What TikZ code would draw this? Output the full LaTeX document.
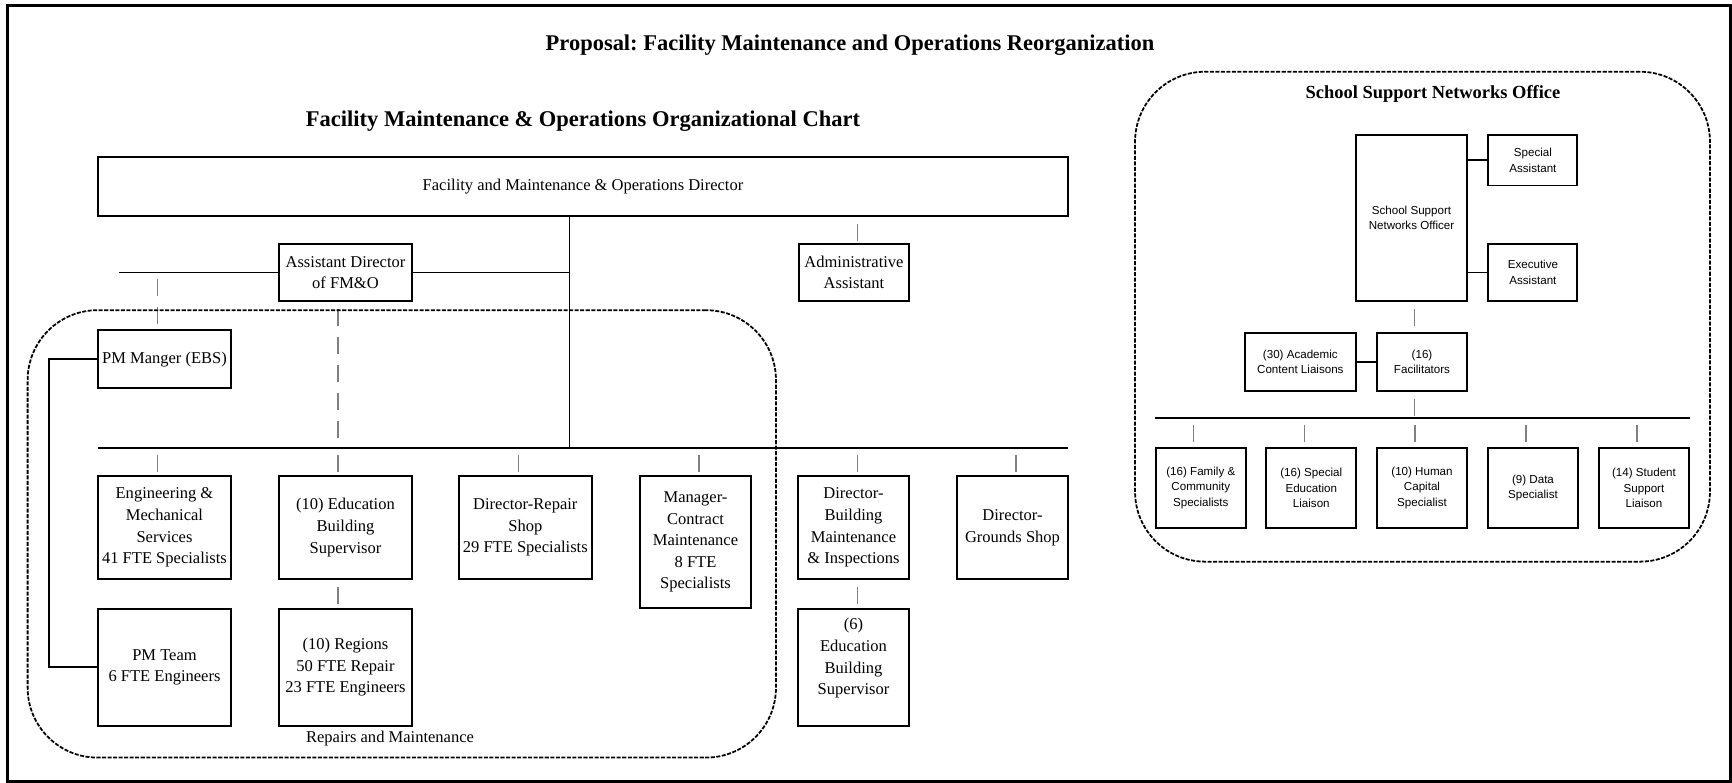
\documentclass[tikz,border=0pt]{standalone}
\usepackage{fontspec}
\setmainfont{Liberation Serif}
\setsansfont{Liberation Sans}
\usetikzlibrary{positioning}
\frenchspacing

\newcommand{\boxfont}{\fontsize{9.4}{12.3}\selectfont}
\newcommand{\netfont}{\sffamily\fontsize{6.6}{8.9}\selectfont}

\begin{document}
\begin{tikzpicture}[
    x=0.02cm, y=-0.02cm,
    box/.style={rectangle, draw, line width=1.1pt, align=center, font=\boxfont, inner sep=1pt},
    netbox/.style={box, font=\netfont},
    link/.style={line width=1.1pt},
    tick/.style={draw=gray, line width=0.7pt, dash pattern=on 0.34cm off 0.22cm, dash phase=0.42cm},
    group/.style={draw, line width=1pt, dash pattern=on 2.3pt off 0.85pt, rounded corners=1.4cm},
    heading/.style={font=\bfseries\fontsize{12.8}{15}\selectfont},
]
\useasboundingbox (0,0) rectangle (1732,783);
\draw[line width=1.5pt] (7.3,5.3) rectangle (1730.6,781.6);

% Titles
\node[heading] (proposal) at (850,45) {Proposal: Facility Maintenance and Operations Reorganization};
\node[heading] (charttitle) at (583,121) {Facility Maintenance \& Operations Organizational Chart};

% Director and staff
\node[box, minimum width=19.4cm, minimum height=1.18cm] (director) at (583,186.5) {Facility and Maintenance \& Operations Director};
\node[box, minimum width=2.66cm, minimum height=1.14cm] (asst) at (345.5,272.5) {Assistant Director\\of FM\&O};
\node[box, minimum width=2.2cm, minimum height=1.14cm] (admin) at (854,272.5) {Administrative\\Assistant};

% First row of units
\node[box, minimum width=2.66cm, minimum height=2.06cm] (eng) at (164.5,527.5) {Engineering \&\\Mechanical\\Services\\41 FTE Specialists};
\node[box, minimum width=2.66cm, minimum height=2.06cm] (edusup) at (345.5,527.5) {(10) Education\\Building\\Supervisor};
\node[box, minimum width=2.66cm, minimum height=2.06cm] (repair) at (525.3,527.5) {Director-Repair\\Shop\\29 FTE Specialists};
\node[box, minimum width=2.22cm, minimum height=2.64cm] (contract) at (695.5,542) {Manager-\\Contract\\Maintenance\\8 FTE\\Specialists};
\node[box, minimum width=2.22cm, minimum height=2.06cm] (bldg) at (853.5,527.5) {Director-\\Building\\Maintenance\\\& Inspections};
\node[box, minimum width=2.22cm, minimum height=2.06cm] (grounds) at (1012.5,527.5) {Director-\\Grounds Shop};

% Second row
\node[box, minimum width=2.66cm, minimum height=2.34cm, below=0.56cm of eng] (pmteam) {PM Team\\6 FTE Engineers};
\node[box, minimum width=2.66cm, minimum height=2.34cm, below=0.56cm of edusup] (regions) {(10) Regions\\50 FTE Repair\\23 FTE Engineers};
\node[box, minimum width=2.22cm, minimum height=2.34cm, below=0.56cm of bldg] (edusix) {(6)\\Education\\Building\\Supervisor\\\mbox{}};
\node[box, minimum width=2.66cm, minimum height=1.16cm, above=1.72cm of eng] (pmmgr) {PM Manger (EBS)};

% Solid links
\coordinate (spine) at (569.5,448);
\coordinate (asstend) at (119,272.5);
\coordinate (barL) at (98,448);
\coordinate (barR) at (1068,448);
\draw[link] (director.south -| spine) -- (spine);
\draw[link] (barL) -- (barR);
\draw[link] (asstend) -- (asst.west);
\draw[link] (asst.east) -- (asst.east -| spine);
\draw[link] (pmmgr.west) -- ++(-0.96cm,0) |- (pmteam.west);

% Dashed links
\foreach \n/\dx in {eng/-7,edusup/-7.5,repair/-7,contract/3.5,bldg/4,grounds/3.5}
  \draw[tick] ([xshift=\dx*0.02cm]\n.north |- barL) -- ([xshift=\dx*0.02cm]\n.north);
\draw[tick] ([xshift=0.07cm]admin.north |- director.south) -- ([xshift=0.07cm]admin.north);
\draw[tick] ([xshift=-0.15cm]asst.south) -- ([xshift=-0.15cm]asst.south |- barL);
\draw[tick] ([xshift=-0.14cm]pmmgr.north |- asstend) -- ([xshift=-0.14cm]pmmgr.north);
\draw[tick] ([xshift=-0.15cm]edusup.south) -- ([xshift=-0.15cm]regions.north);
\draw[tick] ([xshift=0.08cm]bldg.south) -- ([xshift=0.08cm]edusix.north);

% Repairs and Maintenance group
\node[group, minimum width=14.97cm, minimum height=8.95cm] (repairs) at (401.8,533.9) {};
\node[font=\boxfont] (repairslabel) at (390,739) {Repairs and Maintenance};

% School Support Networks Office
\node[group, minimum width=11.5cm, minimum height=9.8cm] (network) at (1422.5,316.7) {};
\node[font=\bfseries\fontsize{10.5}{12}\selectfont] (networktitle) at (1433,94) {School Support Networks Office};

\node[netbox, minimum width=2.22cm, minimum height=3.32cm] (officer) at (1411.5,218) {School Support\\Networks Officer};
\node[netbox, minimum width=1.78cm, minimum height=1.01cm, right=0.39cm of officer.north east, anchor=north west] (special) {Special\\Assistant};
\node[netbox, minimum width=1.78cm, minimum height=1.14cm, right=0.39cm of officer.south east, anchor=south west] (exec) {Executive\\Assistant};
\node[netbox, minimum width=1.8cm, minimum height=1.16cm, below=0.6cm of officer.south east, anchor=north east] (facil) {(16)\\Facilitators};
\node[netbox, minimum width=2.23cm, minimum height=1.16cm, left=0.38cm of facil] (academic) {(30) Academic\\Content Liaisons};

\node[netbox, minimum width=1.8cm, minimum height=1.61cm] (family) at (1200.8,488) {(16) Family \&\\Community\\Specialists};
\node[netbox, minimum width=1.8cm, minimum height=1.61cm] (speced) at (1311.3,488) {(16) Special\\Education\\Liaison};
\node[netbox, minimum width=1.8cm, minimum height=1.61cm] (human) at (1422,488) {(10) Human\\Capital\\Specialist};
\node[netbox, minimum width=1.8cm, minimum height=1.61cm] (data) at (1533,488) {(9) Data\\Specialist};
\node[netbox, minimum width=1.8cm, minimum height=1.61cm] (student) at (1644,488) {(14) Student\\Support\\Liaison};

\coordinate (netbar) at (1422,418);
\draw[link] (special.west) -- (special.west -| officer.east);
\draw[link] (exec.west) -- (exec.west -| officer.east);
\draw[link] (academic) -- (facil);
\draw[link] (family.west |- netbar) -- (student.east |- netbar);
\draw[tick] ([xshift=0.06cm]officer.south) -- ([xshift=0.06cm]officer.south |- facil.north);
\draw[tick] ([xshift=-0.15cm]facil.south) -- ([xshift=-0.15cm]facil.south |- netbar);
\foreach \n in {family,speced,human,data,student}
  \draw[tick] ([xshift=-0.14cm]\n.north |- netbar) -- ([xshift=-0.14cm]\n.north);

\end{tikzpicture}
\end{document}
